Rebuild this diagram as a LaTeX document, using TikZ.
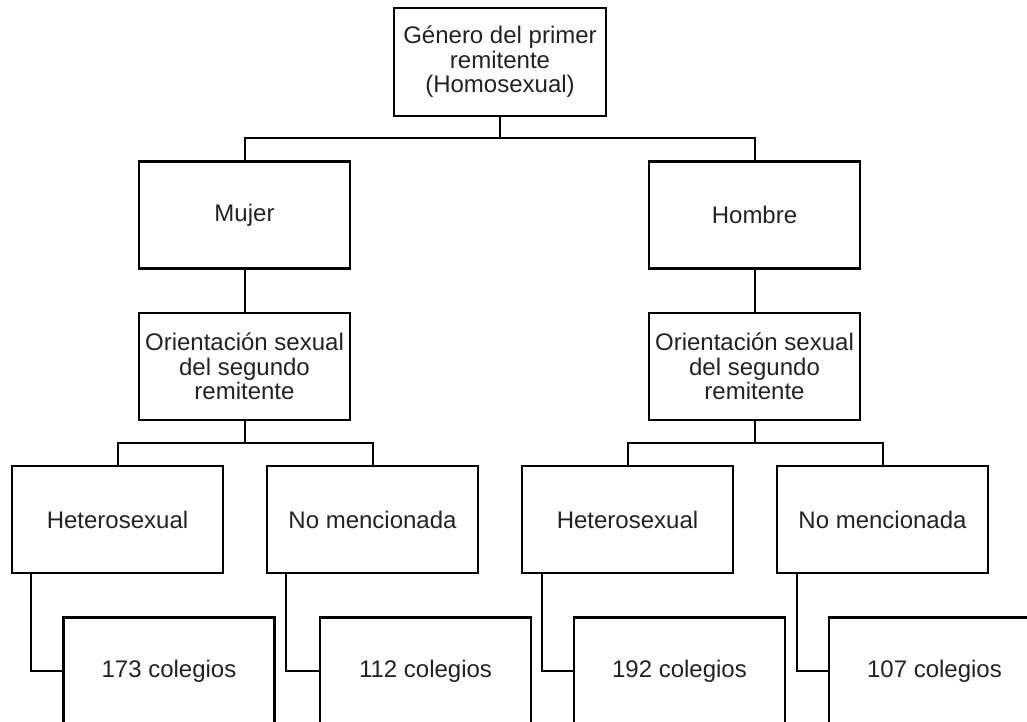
\documentclass[tikz,border=0pt]{standalone}
\usepackage{fontspec}
\setmainfont{Liberation Sans}
\usetikzlibrary{positioning}
\definecolor{box_text}{HTML}{222222}

\begin{document}
\begin{tikzpicture}[
  x=0.5pt, y=-0.5pt,
  vertex/.style = {draw, rectangle, align=center, line width=1.3pt, minimum width=105.5pt, minimum height=53.5pt, inner sep=0pt, text=box_text},
  link/.style = {line width=1pt},
]
\tikzstyle{every node}=[font=\fontsize{12}{12.3}\selectfont]
\clip (0,0) rectangle (1027,722);

% Define vertices
\node[vertex, minimum width=106pt, minimum height=54pt] (Genero) at (500,62) {Género del primer\\ remitente\\ (Homosexual)};
\node[vertex] (Mujer) at (244.5,215) {Mujer};
\node[vertex] (Hombre) at (754.5,215) {Hombre};
\node[vertex] (OrientM) at (244.5,366.5) {Orientación sexual\\ del segundo\\ remitente};
\node[vertex] (OrientH) at (754.5,366.5) {Orientación sexual\\ del segundo\\ remitente};
\node[vertex] (HeteroM) at (117.5,519.5) {Heterosexual};
\node[vertex] (NoMencM) at (372.5,519.5) {No mencionada};
\node[vertex] (HeteroH) at (627.5,519.5) {Heterosexual};
\node[vertex] (NoMencH) at (882.5,519.5) {No mencionada};
\node[vertex] (ColHM) at (169,671) {173 colegios};
\node[vertex] (ColNM) at (425.5,671) {112 colegios};
\node[vertex] (ColHH) at (679.5,671) {192 colegios};
\node[vertex] (ColNH) at (934.5,671) {107 colegios};

% Split points
\coordinate (SplitTop) at (500,138);
\coordinate (SplitM) at (244.5,443);
\coordinate (SplitH) at (754.5,443);

% Draw edges
\draw[link] (Genero) -- (SplitTop);
\draw[link] (Mujer.north) |- (SplitTop) -| (Hombre.north);
\draw[link] (Mujer) -- (OrientM);
\draw[link] (Hombre) -- (OrientH);
\draw[link] (OrientM) -- (SplitM);
\draw[link] (OrientH) -- (SplitH);
\draw[link] (HeteroM.north) |- (SplitM) -| (NoMencM.north);
\draw[link] (HeteroH.north) |- (SplitH) -| (NoMencH.north);
\draw[link] ([xshift=10pt]HeteroM.south west) |- (ColHM.west);
\draw[link] ([xshift=10pt]NoMencM.south west) |- (ColNM.west);
\draw[link] ([xshift=10.5pt]HeteroH.south west) |- (ColHH.west);
\draw[link] ([xshift=10.5pt]NoMencH.south west) |- (ColNH.west);
\end{tikzpicture}
\end{document}
